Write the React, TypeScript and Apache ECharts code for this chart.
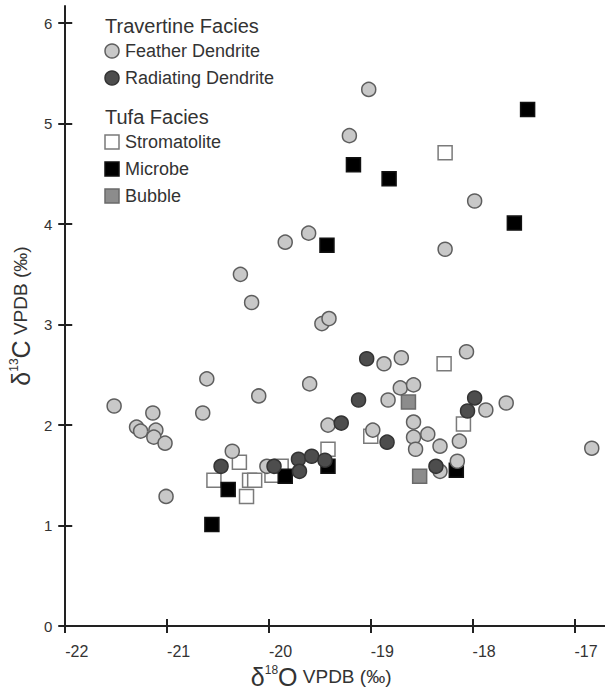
import React, { useEffect, useRef } from "react";
import * as echarts from "echarts";

const xTicks = [-22, -21, -20, -19, -18, -17];
const yTicks = [0, 1, 2, 3, 4, 5, 6];
const xRange = [-22, -16.7];
const yRange = [0, 6.17];

const travertineTitle = "Travertine Facies";
const tufaTitle = "Tufa Facies";
const travertineNames = ["Feather Dendrite", "Radiating Dendrite"];
const tufaNames = ["Stromatolite", "Microbe", "Bubble"];

const featherDendrite: [number, number][] = [
  [-19.02, 5.34], [-19.21, 4.88], [-17.98, 4.23], [-19.84, 3.82], [-19.61, 3.91],
  [-18.27, 3.75], [-20.28, 3.5], [-20.17, 3.22], [-19.48, 3.01], [-19.41, 3.06],
  [-20.61, 2.46], [-20.1, 2.29], [-19.6, 2.41], [-21.52, 2.19], [-21.14, 2.12],
  [-20.65, 2.12], [-21.3, 1.98], [-21.26, 1.94], [-21.11, 1.95], [-21.13, 1.88],
  [-21.02, 1.82], [-21.01, 1.29], [-19.42, 2.0], [-20.36, 1.74], [-20.02, 1.59],
  [-18.87, 2.61], [-18.7, 2.67], [-18.06, 2.73], [-18.71, 2.37], [-18.58, 2.4],
  [-18.83, 2.25], [-17.87, 2.15], [-17.67, 2.22], [-18.98, 1.95], [-18.58, 2.03],
  [-18.58, 1.88], [-18.44, 1.91], [-18.56, 1.76], [-18.32, 1.79], [-18.13, 1.84],
  [-16.83, 1.77], [-18.32, 1.54], [-18.15, 1.64],
];
const radiatingDendrite: [number, number][] = [
  [-19.04, 2.66], [-19.12, 2.25], [-17.98, 2.27], [-18.05, 2.14], [-19.29, 2.02],
  [-18.84, 1.83], [-18.36, 1.59], [-20.47, 1.59], [-19.95, 1.59], [-19.71, 1.66],
  [-19.7, 1.54], [-19.58, 1.69], [-19.45, 1.65],
];
const stromatolite: [number, number][] = [
  [-18.27, 4.71], [-18.28, 2.61], [-18.09, 2.01], [-19.0, 1.89], [-19.42, 1.76],
  [-20.29, 1.63], [-20.54, 1.45], [-20.22, 1.29], [-20.19, 1.45], [-20.14, 1.45],
  [-19.97, 1.5], [-19.88, 1.59],
];
const microbe: [number, number][] = [
  [-17.46, 5.14], [-19.17, 4.59], [-18.82, 4.45], [-17.59, 4.01], [-19.43, 3.79],
  [-20.4, 1.36], [-19.84, 1.49], [-19.42, 1.59], [-20.56, 1.01], [-18.16, 1.55],
];
const bubble: [number, number][] = [
  [-18.63, 2.23], [-18.52, 1.49],
];

const FONT = "'Liberation Sans', Arial, Helvetica, sans-serif";
const TEXT = "#333";
const AXIS = "#222";

type Sty = { symbol: string; fill: string; stroke: string };
const styles: Record<string, Sty> = {
  "Feather Dendrite": { symbol: "circle", fill: "#c8c8c8", stroke: "#5e5e5e" },
  "Radiating Dendrite": { symbol: "circle", fill: "#4d4d4d", stroke: "#333333" },
  Stromatolite: { symbol: "rect", fill: "#ffffff", stroke: "#7a7a7a" },
  Microbe: { symbol: "rect", fill: "#000000", stroke: "#111111" },
  Bubble: { symbol: "rect", fill: "#8c8c8c", stroke: "#6a6a6a" },
};

const seriesData: [string, [number, number][]][] = [
  ["Stromatolite", stromatolite],
  ["Bubble", bubble],
  ["Microbe", microbe],
  ["Feather Dendrite", featherDendrite],
  ["Radiating Dendrite", radiatingDendrite],
];

const isTick = (v: number, ticks: number[]) => ticks.some((t) => Math.abs(t - v) < 1e-6);

function legendGraphics() {
  const els: any[] = [];
  const symX = 112;
  const txtX = 125;
  els.push({
    type: "text", x: 105, y: 26,
    style: { text: travertineTitle, font: `20px ${FONT}`, fill: TEXT, verticalAlign: "middle", align: "left" },
  });
  const travY = [51, 78];
  travertineNames.forEach((n, i) => {
    const s = styles[n];
    els.push({ type: "circle", shape: { cx: symX, cy: travY[i], r: 7 }, style: { fill: s.fill, stroke: s.stroke, lineWidth: 1.5 } });
    els.push({ type: "text", x: txtX, y: travY[i], style: { text: n, font: `18px ${FONT}`, fill: TEXT, verticalAlign: "middle", align: "left" } });
  });
  els.push({
    type: "text", x: 105, y: 117,
    style: { text: tufaTitle, font: `20px ${FONT}`, fill: TEXT, verticalAlign: "middle", align: "left" },
  });
  const tufaY = [142, 169, 196];
  tufaNames.forEach((n, i) => {
    const s = styles[n];
    els.push({ type: "rect", shape: { x: symX - 7, y: tufaY[i] - 7, width: 14, height: 14 }, style: { fill: s.fill, stroke: s.stroke, lineWidth: 1.5 } });
    els.push({ type: "text", x: txtX, y: tufaY[i], style: { text: n, font: `18px ${FONT}`, fill: TEXT, verticalAlign: "middle", align: "left" } });
  });
  return els;
}

const nameRich = {
  d: { fontSize: 25, fontFamily: FONT, color: TEXT },
  s: { fontSize: 12, fontFamily: FONT, color: TEXT, verticalAlign: "top" as const, padding: [0, 0, 0, 0] },
  b: { fontSize: 25, fontFamily: FONT, color: TEXT },
  n: { fontSize: 19, fontFamily: FONT, color: TEXT },
};

export default function App() {
  const ref = useRef<HTMLDivElement>(null);
  useEffect(() => {
    if (!ref.current) return;
    const chart = echarts.init(ref.current, undefined, { renderer: "svg" });
    const baseAxis = (min: number, max: number, ticks: number[]) => ({
      type: "value" as const,
      min, max,
      splitLine: { show: false },
      axisLine: { show: true, lineStyle: { color: AXIS, width: 2 } },
      axisTick: { show: true, inside: false, length: 7, lineStyle: { color: AXIS, width: 2 }, customValues: ticks },
    });
    chart.setOption({
      animation: false,
      backgroundColor: "#ffffff",
      grid: { left: 63, right: 0, top: 6, bottom: 59, containLabel: false },
      xAxis: [
        {
          ...baseAxis(xRange[0], xRange[1], xTicks),
          position: "bottom",
          name: "{d|δ}{s|18}{b|O}{n| VPDB (‰)}",
          nameLocation: "middle",
          nameGap: 30,
          nameTextStyle: { rich: nameRich, padding: [0, 28, 0, 0] },
          axisLabel: {
            customValues: xTicks,
            margin: 17,
            align: "left",
            fontSize: 16,
            fontFamily: FONT,
            color: TEXT,
            formatter: (v: number) => (isTick(v, xTicks) ? String(v) : ""),
          },
        },
        {
          ...baseAxis(xRange[0], xRange[1], xTicks),
          position: "bottom",
          axisLine: { show: false },
          axisTick: { show: true, inside: true, length: 7, lineStyle: { color: AXIS, width: 2 }, customValues: xTicks },
          axisLabel: { show: false },
        },
      ],
      yAxis: [
        {
          ...baseAxis(yRange[0], yRange[1], yTicks),
          position: "left",
          name: "{d|δ}{s|13}{b|C}{n| VPDB (‰)}",
          nameLocation: "middle",
          nameGap: 30,
          nameTextStyle: { rich: nameRich },
          axisLabel: {
            customValues: yTicks,
            margin: 13,
            fontSize: 15,
            fontFamily: FONT,
            color: TEXT,
            padding: [0, 0, 12, 0],
            formatter: (v: number) => (isTick(v, yTicks) ? String(v) : ""),
          },
        },
        {
          ...baseAxis(yRange[0], yRange[1], yTicks),
          position: "left",
          axisLine: { show: false },
          axisTick: { show: true, inside: true, length: 7, lineStyle: { color: AXIS, width: 2 }, customValues: yTicks },
          axisLabel: { show: false },
        },
      ],
      series: seriesData.map(([name, data], i) => ({
        name,
        type: "scatter",
        xAxisIndex: 0,
        yAxisIndex: 0,
        data,
        symbol: styles[name].symbol,
        symbolSize: 14,
        z: 2 + i,
        itemStyle: { color: styles[name].fill, borderColor: styles[name].stroke, borderWidth: 1.5, opacity: 1 },
        emphasis: { disabled: true },
      })),
      graphic: legendGraphics(),
    });
    return () => chart.dispose();
  }, []);
  return (
    <div
      ref={ref}
      style={{ position: "fixed", left: 0, top: 0, width: 605, height: 694, background: "#fff" }}
    />
  );
}
